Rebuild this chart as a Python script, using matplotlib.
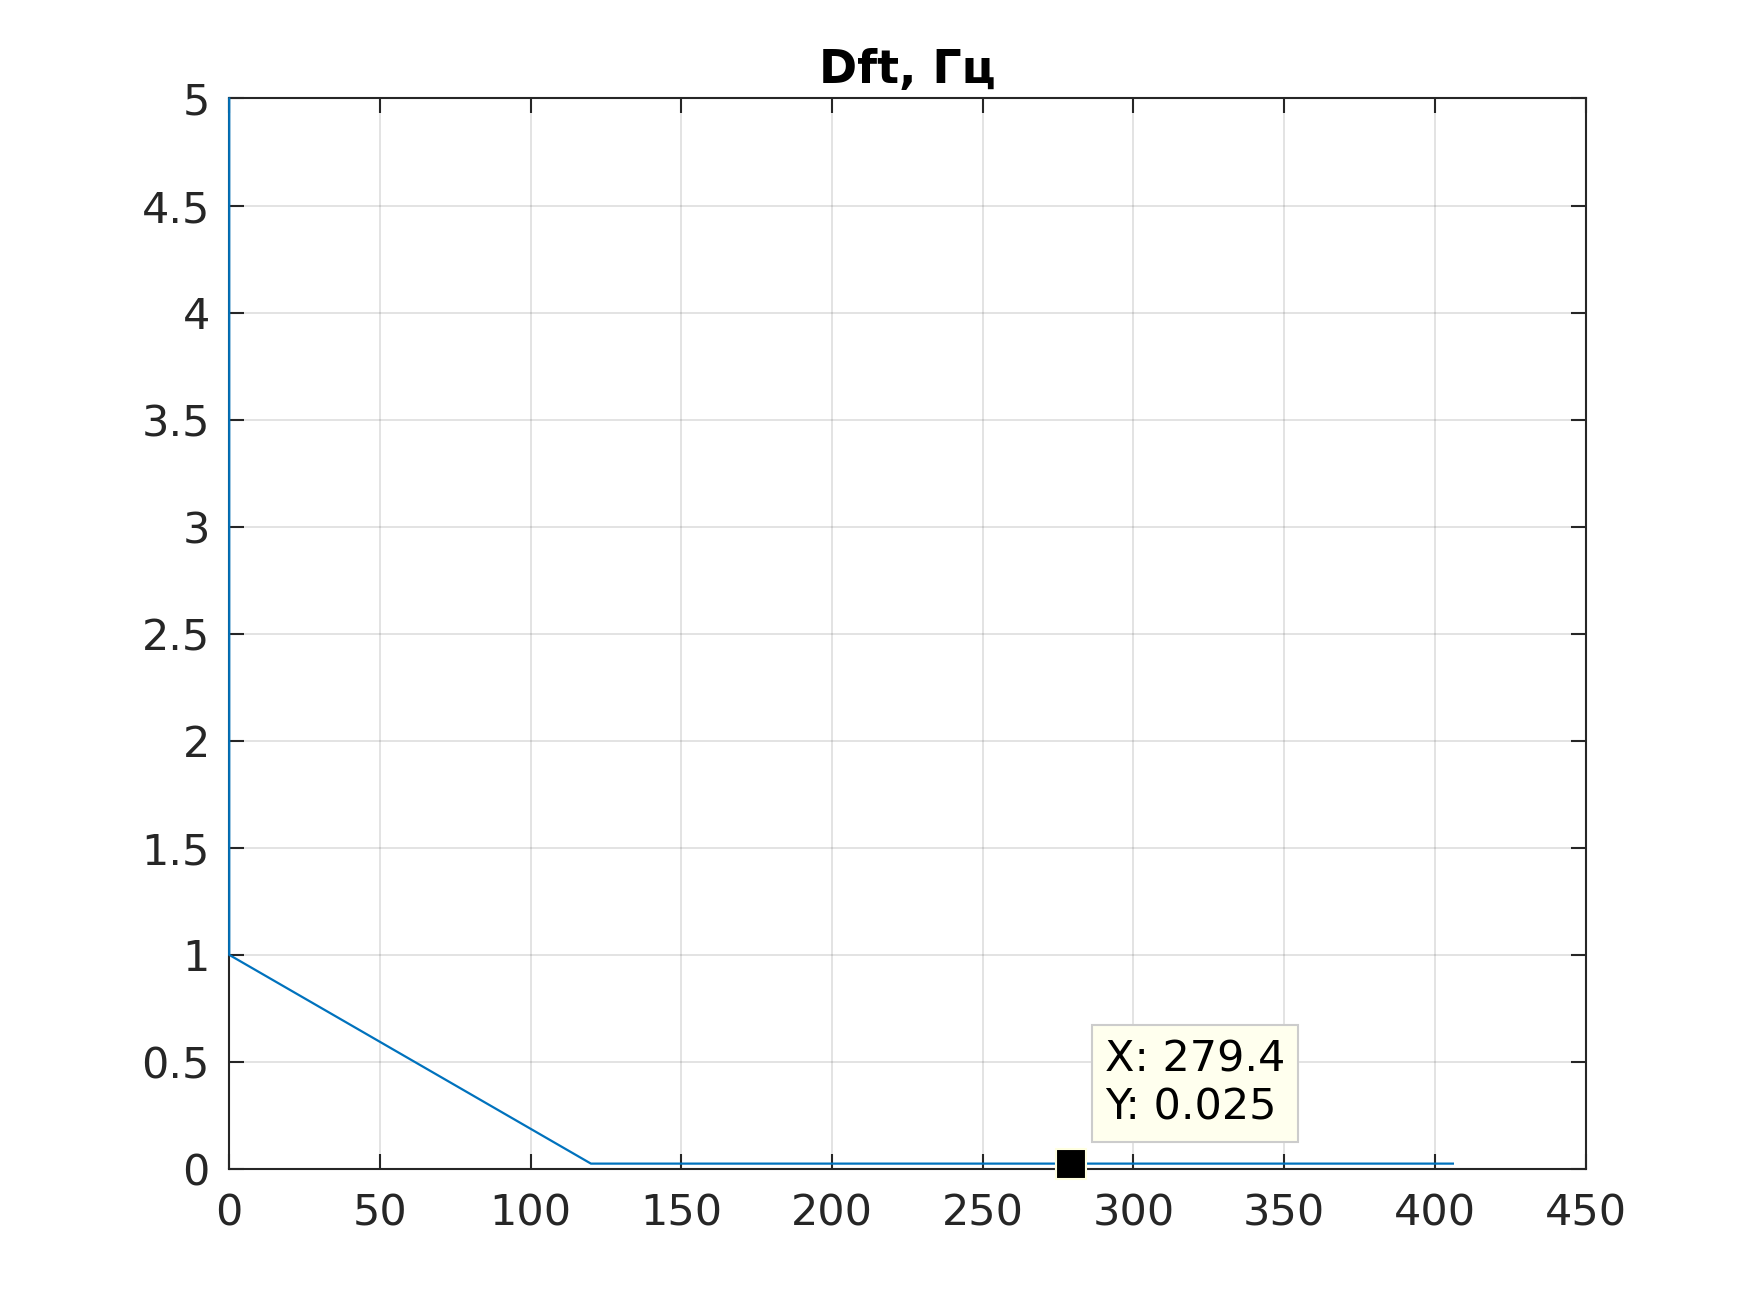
import matplotlib
matplotlib.use("Agg")
import matplotlib.pyplot as plt

# данные кривой
freq = [0, 0, 120, 406]
dft = [5, 1, 0.025, 0.025]

# точка подсказки
tip_x = 279.4
tip_y = 0.025

x_ticks = [0, 50, 100, 150, 200, 250, 300, 350, 400, 450]
y_ticks = [0, 0.5, 1, 1.5, 2, 2.5, 3, 3.5, 4, 4.5, 5]
y_labels = ["0", "0.5", "1", "1.5", "2", "2.5", "3", "3.5", "4", "4.5", "5"]

plt.rcParams["font.family"] = ["DejaVu Sans"]

fig = plt.figure(figsize=(17.5, 13.13), dpi=100)
ax = fig.add_axes([0.131, 0.1097, 0.775, 0.8153])

ax.plot(freq, dft, color="#0072BD", linewidth=1.6, clip_on=False, zorder=3)
ax.plot([tip_x], [tip_y], marker="s", markersize=22, color="black",
        markeredgecolor="#FFFFE0", markeredgewidth=1.5, zorder=5, clip_on=False)

ax.annotate("X: 279.4\nY: 0.025", xy=(tip_x, tip_y), xytext=(24, 25),
            textcoords="offset points", fontsize=31, color="black",
            ha="left", va="bottom", linespacing=1.2,
            bbox=dict(boxstyle="square,pad=0.3", fc="#FFFFEE", ec="#CCCCCC", lw=1.5),
            zorder=6)

ax.set_xlim(0, 450)
ax.set_ylim(0, 5)
ax.set_xticks(x_ticks)
ax.set_yticks(y_ticks)
ax.set_yticklabels(y_labels)

ax.grid(True, color="#262626", alpha=0.15, linewidth=1.2)
ax.set_axisbelow(True)

ax.tick_params(axis="both", direction="in", length=11, width=1.5, color="#262626",
               labelcolor="#262626", labelsize=31, top=True, right=True)
ax.tick_params(axis="x", pad=17)
ax.tick_params(axis="y", pad=14)
for s in ax.spines.values():
    s.set_color("#262626")
    s.set_linewidth(1.5)

ax.set_title("Dft, Гц", fontsize=33, fontweight="bold", pad=11)

fig.savefig("out.png", dpi=100, facecolor="white")
